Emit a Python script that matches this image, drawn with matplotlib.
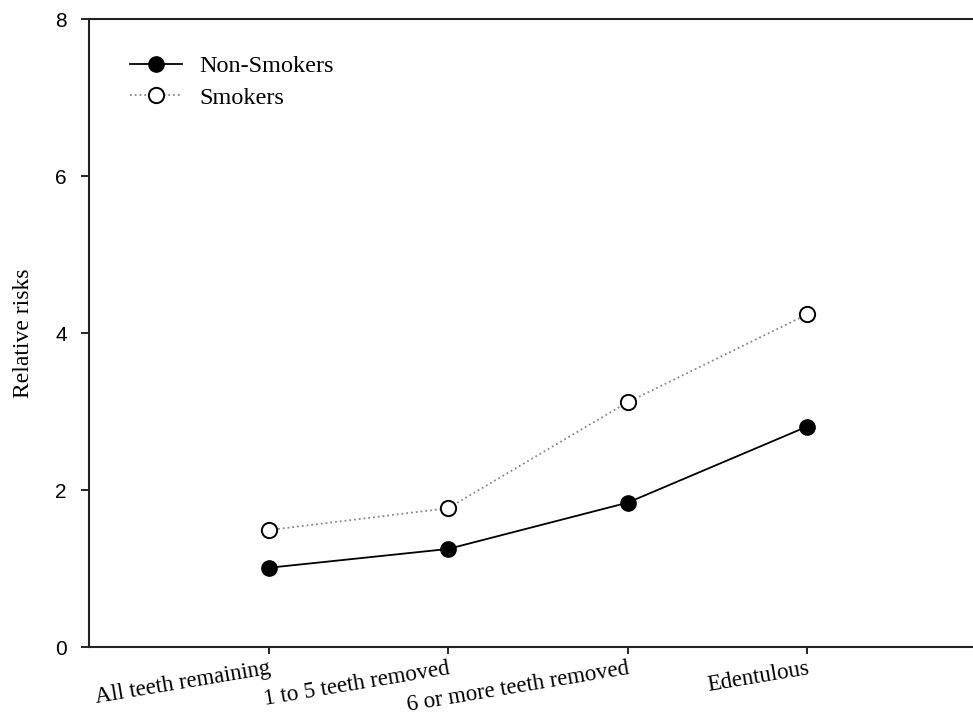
import matplotlib
matplotlib.use("Agg")
import matplotlib.pyplot as plt

categories = ["All teeth remaining", "1 to 5 teeth removed", "6 or more teeth removed", "Edentulous"]
non_smokers = [1.01, 1.25, 1.84, 2.81]
smokers = [1.49, 1.77, 3.12, 4.24]
y_ticks = [0, 2, 4, 6, 8]

fig = plt.figure(figsize=(9.73, 7.19), dpi=100)
ax = fig.add_axes([0.0915, 0.1001, 0.9225, 0.8729])

x = list(range(len(categories)))
ax.plot(x, non_smokers, "-", color="black", lw=1.3, marker="o", ms=11,
        mfc="black", mec="black", label="Non-Smokers", clip_on=False)
ax.plot(x, smokers, ":", color="#888888", lw=1.3, marker="o", ms=11,
        mfc="white", mec="black", mew=1.4, label="Smokers", clip_on=False)

ax.set_xlim(-1, 4)
ax.set_ylim(0, 8)
ax.set_yticks(y_ticks)
ax.set_xticks(x)
ax.set_xticklabels(categories, rotation=9.5, ha="right", rotation_mode="anchor",
                   family="Liberation Serif", fontsize=16.5)
for lbl in ax.get_yticklabels():
    lbl.set_family("Liberation Sans")
    lbl.set_fontsize(15)

ax.spines["right"].set_visible(False)
for s in ("left", "bottom", "top"):
    ax.spines[s].set_linewidth(1.5)
    ax.spines[s].set_color("#222222")

ax.tick_params(axis="y", direction="out", length=6, width=1.2, pad=10)
ax.tick_params(axis="x", direction="out", length=5, width=1.2, pad=3)

ax.set_ylabel("Relative risks", family="Liberation Serif", fontsize=17, labelpad=15)

ax.legend(loc="upper left", bbox_to_anchor=(0.021, 0.978), frameon=False,
          prop={"family": "Liberation Serif", "size": 17.5}, handlelength=2.15,
          handletextpad=0.7, labelspacing=0.4)

fig.savefig("out.png", dpi=100)
